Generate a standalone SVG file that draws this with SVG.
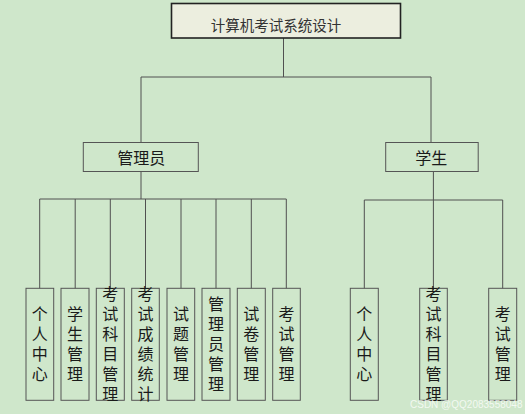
<svg xmlns="http://www.w3.org/2000/svg" width="525" height="414" viewBox="0 0 525 414">
<style>
.bg{fill:#cfe7cb}
.box{fill:none;stroke:#555;stroke-width:1}
.root{fill:#eceedf;stroke:#222;stroke-width:1.6}
.ln{fill:none;stroke:#505050;stroke-width:1}
.t{font-family:"Noto Sans CJK SC","Noto Sans",sans-serif;font-size:16px;fill:#1a1a1a;text-anchor:middle;dominant-baseline:central}
.rt{font-family:"Noto Sans CJK SC","Noto Sans",sans-serif;font-size:14.5px;fill:#333;text-anchor:middle;dominant-baseline:central}
.wm{font-family:"Liberation Sans",sans-serif;font-size:10px;fill:#ffffff;fill-opacity:0.75}
</style>
<rect class="bg" x="0" y="0" width="525" height="414"/>
<g id="connectors">
<path class="ln" d="M283.5 38V77M141 77H431M141 77V142M431 77V142"/>
<path class="ln" d="M141 171V199M39.7 199H286.3M39.7 199V288.3M75.2 199V288.3M110.3 199V288.3M145.5 199V288.3M181 199V288.3M216 199V288.3M251.3 199V288.3M286.3 199V288.3"/>
<path class="ln" d="M433.4 171V290M364.3 200H502.7M364.3 200V288.3M502.7 200V288.3"/>
</g>
<g id="root"><rect class="root" x="171.5" y="3.5" width="229" height="34.5"/><text class="rt" x="276" y="24">计算机考试系统设计</text></g>
<g id="admin"><rect class="box" x="83.3" y="142.5" width="115" height="29"/><text class="t" x="141.2" y="157">管理员</text></g>
<g id="student"><rect class="box" x="385.7" y="142.5" width="92.5" height="29"/><text class="t" x="431.3" y="157">学生</text></g>
<g id="a1"><rect class="box" x="26" y="288.3" width="27.7" height="112"/><text class="t"><tspan x="39.8" y="313.3">个</tspan><tspan x="39.8" y="333.3">人</tspan><tspan x="39.8" y="353.3">中</tspan><tspan x="39.8" y="373.3">心</tspan></text></g>
<g id="a2"><rect class="box" x="61" y="288.3" width="28" height="112"/><text class="t"><tspan x="75" y="313.3">学</tspan><tspan x="75" y="333.3">生</tspan><tspan x="75" y="353.3">管</tspan><tspan x="75" y="373.3">理</tspan></text></g>
<g id="a3"><rect class="box" x="96.3" y="288.3" width="28" height="112"/><text class="t"><tspan x="110.3" y="293.3">考</tspan><tspan x="110.3" y="313.3">试</tspan><tspan x="110.3" y="333.3">科</tspan><tspan x="110.3" y="353.3">目</tspan><tspan x="110.3" y="373.3">管</tspan><tspan x="110.3" y="393.3">理</tspan></text></g>
<g id="a4"><rect class="box" x="131.7" y="288.3" width="27.6" height="112"/><text class="t"><tspan x="145.5" y="293.3">考</tspan><tspan x="145.5" y="313.3">试</tspan><tspan x="145.5" y="333.3">成</tspan><tspan x="145.5" y="353.3">绩</tspan><tspan x="145.5" y="373.3">统</tspan><tspan x="145.5" y="393.3">计</tspan></text></g>
<g id="a5"><rect class="box" x="167" y="288.3" width="27.7" height="112"/><text class="t"><tspan x="181" y="313.3">试</tspan><tspan x="181" y="333.3">题</tspan><tspan x="181" y="353.3">管</tspan><tspan x="181" y="373.3">理</tspan></text></g>
<g id="a6"><rect class="box" x="202" y="288.3" width="28" height="112"/><text class="t"><tspan x="216" y="303.3">管</tspan><tspan x="216" y="323.3">理</tspan><tspan x="216" y="343.3">员</tspan><tspan x="216" y="363.3">管</tspan><tspan x="216" y="383.3">理</tspan></text></g>
<g id="a7"><rect class="box" x="237.3" y="288.3" width="28" height="112"/><text class="t"><tspan x="251.3" y="313.3">试</tspan><tspan x="251.3" y="333.3">卷</tspan><tspan x="251.3" y="353.3">管</tspan><tspan x="251.3" y="373.3">理</tspan></text></g>
<g id="a8"><rect class="box" x="272.7" y="288.3" width="27.6" height="112"/><text class="t"><tspan x="286.5" y="313.3">考</tspan><tspan x="286.5" y="333.3">试</tspan><tspan x="286.5" y="353.3">管</tspan><tspan x="286.5" y="373.3">理</tspan></text></g>
<g id="s1"><rect class="box" x="350.3" y="288.3" width="28" height="112"/><text class="t"><tspan x="364.3" y="313.3">个</tspan><tspan x="364.3" y="333.3">人</tspan><tspan x="364.3" y="353.3">中</tspan><tspan x="364.3" y="373.3">心</tspan></text></g>
<g id="s2"><rect class="box" x="419.7" y="288.3" width="27.6" height="112"/><text class="t"><tspan x="433.5" y="293.3">考</tspan><tspan x="433.5" y="313.3">试</tspan><tspan x="433.5" y="333.3">科</tspan><tspan x="433.5" y="353.3">目</tspan><tspan x="433.5" y="373.3">管</tspan><tspan x="433.5" y="393.3">理</tspan></text></g>
<g id="s3"><rect class="box" x="488.7" y="288.3" width="28" height="112"/><text class="t"><tspan x="502.7" y="313.3">考</tspan><tspan x="502.7" y="333.3">试</tspan><tspan x="502.7" y="353.3">管</tspan><tspan x="502.7" y="373.3">理</tspan></text></g>
<text class="wm" x="410" y="408">CSDN @QQ2083558048</text>
</svg>
